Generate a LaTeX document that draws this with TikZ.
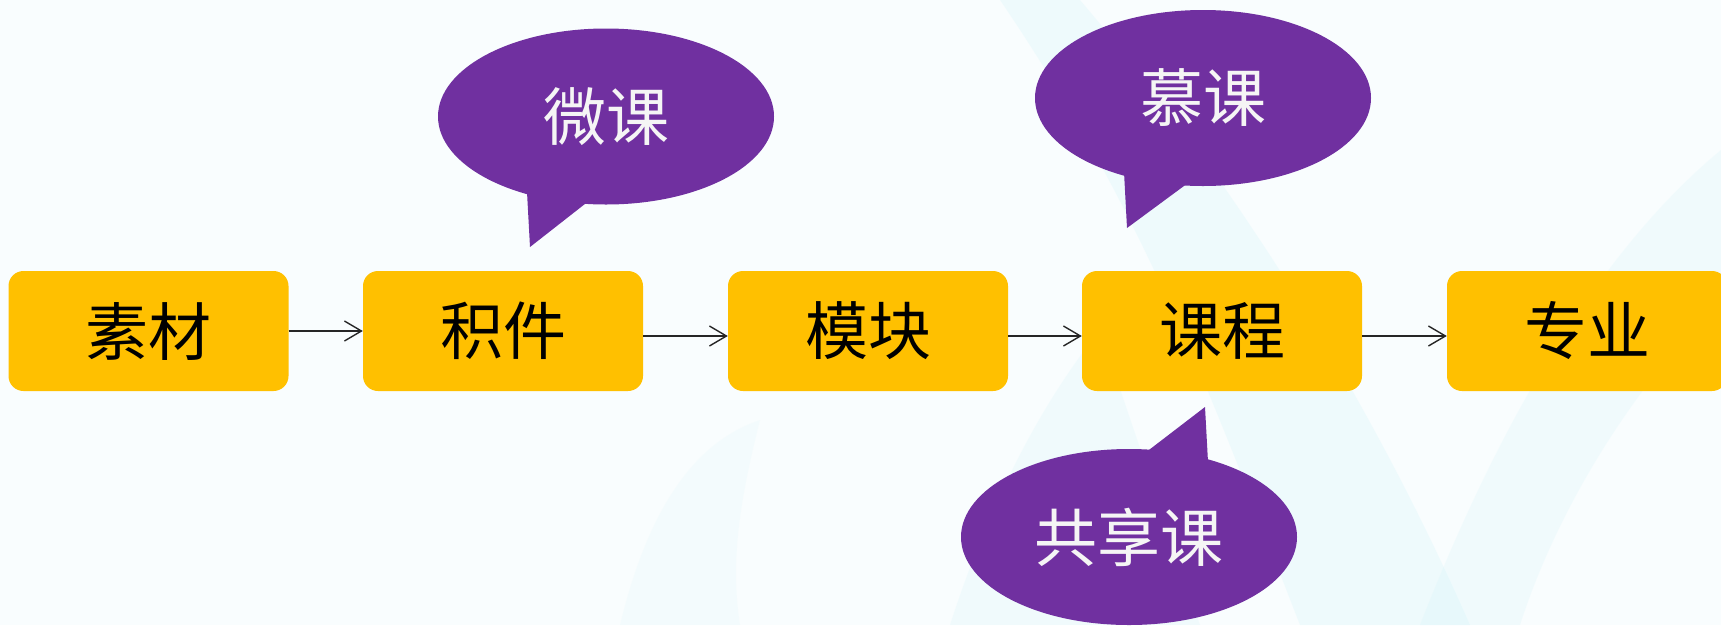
\documentclass[tikz,border=0pt]{standalone}
\usepackage{fontspec}
\newfontfamily\cjk{Noto Sans CJK SC}
\usetikzlibrary{arrows.meta,shapes.geometric}
\definecolor{gold}{HTML}{FFC000}
\definecolor{callpurple}{HTML}{7030A0}
\definecolor{bgbase}{HTML}{F9FDFE}
\definecolor{bgcyan}{HTML}{D6F5FA}
\tikzset{
  stagebox/.style={rectangle, rounded corners=15pt, fill=gold, minimum width=280pt, minimum height=120pt, inner sep=0pt, font=\cjk\fontsize{63}{66}\selectfont, text=black},
  bubble/.style={ellipse, fill=callpurple, minimum width=336pt, minimum height=176pt, inner sep=0pt, font=\cjk\fontsize{63}{66}\selectfont, text=white!96!black},
  tail/.style={fill=callpurple, draw=none},
  flow/.style={draw=black!85, line width=1.4pt, -{Straight Barb[length=17pt,width=20pt,line width=1.4pt]}}
}
\begin{document}
\begin{tikzpicture}[x=1pt,y=-1pt]
\useasboundingbox (0,0) rectangle (1721,625);
% background
\fill[bgbase] (0,0) rectangle (1721,625);
\fill[bgcyan,opacity=0.3] (1080,0) .. controls (1250,200) and (1380,420) .. (1470,625) -- (1300,625) .. controls (1220,420) and (1150,220) .. (1000,0) -- cycle;
\fill[bgcyan,opacity=0.25] (1420,625) .. controls (1500,420) and (1600,250) .. (1721,150) -- (1721,300) .. controls (1640,380) and (1560,500) .. (1520,625) -- cycle;
\fill[bgcyan,opacity=0.25] (950,625) .. controls (1000,470) and (1060,380) .. (1100,330) -- (1200,625) -- cycle;
\fill[bgcyan,opacity=0.15] (620,625) .. controls (650,500) and (700,440) .. (760,420) .. controls (740,500) and (730,560) .. (740,625) -- cycle;
% stage boxes
\node[stagebox] (b1) at (148.5,331) {素材};
\node[stagebox] (b2) at (503,331) {积件};
\node[stagebox] (b3) at (868,331) {模块};
\node[stagebox] (b4) at (1222,331) {课程};
\node[stagebox] (b5) at (1587,331) {专业};
% connectors
\draw[flow] (b1.east) -- (b2.west);
\draw[flow] ([yshift=-5pt]b2.east) -- ([yshift=-5pt]b3.west);
\draw[flow] ([yshift=-5pt]b3.east) -- ([yshift=-5pt]b4.west);
\draw[flow] ([yshift=-5pt]b4.east) -- ([yshift=-5pt]b5.west);
% callout 1
\coordinate (t1a) at (527,192);
\coordinate (t1tip) at (530,247);
\coordinate (t1b) at (590,200);
\fill[tail] (t1a) -- (t1tip) -- (t1b) -- cycle;
\node[bubble] (c1) at (606,116.5) {微课};
% callout 2
\coordinate (t2a) at (1124,172);
\coordinate (t2tip) at (1127,228);
\coordinate (t2b) at (1188,183);
\fill[tail] (t2a) -- (t2tip) -- (t2b) -- cycle;
\node[bubble] (c2) at (1203,98) {慕课};
% callout 3
\coordinate (t3a) at (1145,453);
\coordinate (t3tip) at (1205,407);
\coordinate (t3b) at (1208,462);
\fill[tail] (t3a) -- (t3tip) -- (t3b) -- cycle;
\node[bubble] (c3) at (1129,537) {共享课};
\end{tikzpicture}
\end{document}
